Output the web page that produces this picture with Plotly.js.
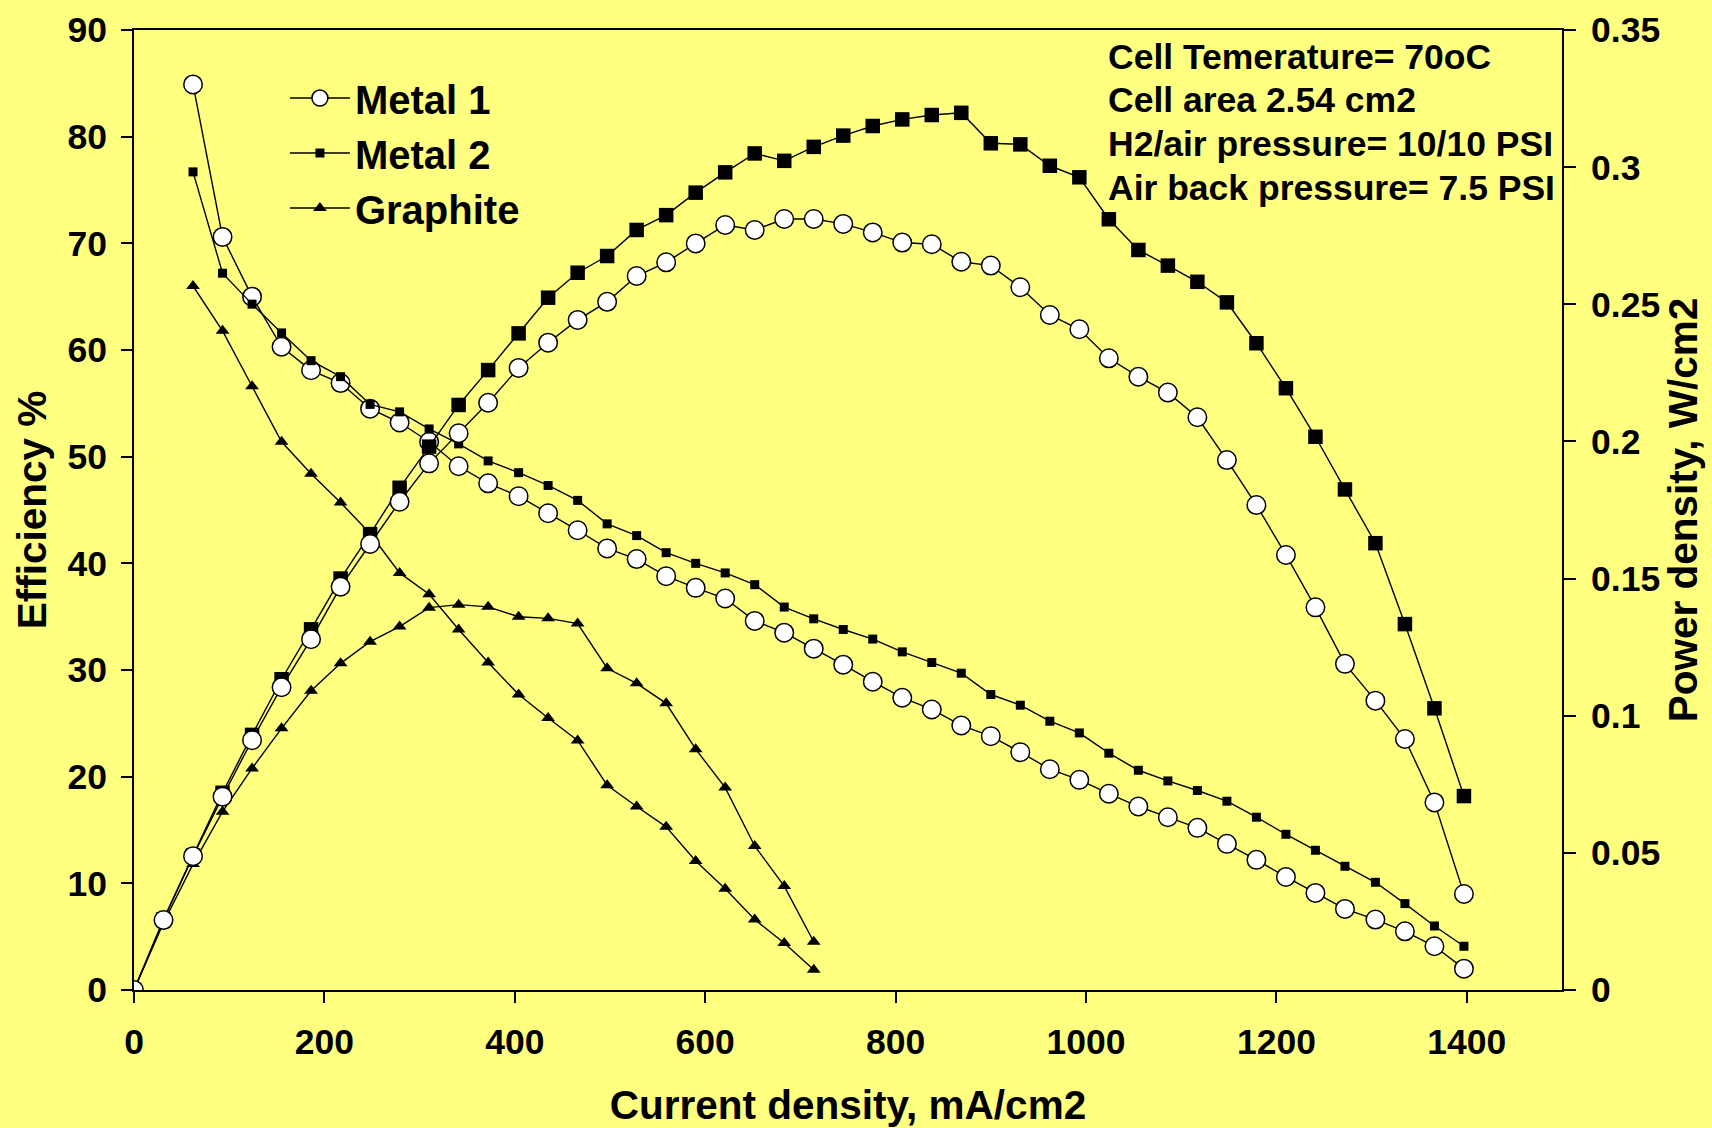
<!DOCTYPE html>
<html>
<head>
<meta charset="utf-8">
<script src="https://cdn.plot.ly/plotly-3.0.1.min.js"></script>
<style>
  html, body { margin: 0; padding: 0; background: #FFFF80; }
  #chart { width: 1712px; height: 1128px; }
</style>
</head>
<body>
<div id="chart"></div>
<script>
// Current density, mA/cm2 (one point per load step)
const currentDensity = [0, 31, 62, 93, 124, 155, 186, 217, 248, 279, 310, 341, 372, 404, 435, 466,
  497, 528, 559, 590, 621, 652, 683, 714, 745, 776, 807, 838, 869, 900, 931, 962, 993, 1024,
  1055, 1086, 1117, 1148, 1179, 1210, 1241, 1272, 1304, 1335, 1366, 1397];

// Efficiency %, starting from the third load step (62 mA/cm2)
const metal1Eff = [84.9, 70.6, 65.0, 60.3, 58.1, 56.9, 54.5, 53.2, 51.4, 49.1, 47.5, 46.3, 44.7, 43.1,
  41.4, 40.4, 38.8, 37.7, 36.7, 34.6, 33.5, 32.0, 30.5, 28.9, 27.4, 26.3, 24.8, 23.8, 22.3, 20.7,
  19.7, 18.4, 17.2, 16.2, 15.2, 13.7, 12.2, 10.6, 9.1, 7.6, 6.6, 5.5, 4.1, 2.0];
const metal2Eff = [76.7, 67.2, 64.3, 61.6, 59.0, 57.5, 54.9, 54.2, 52.6, 51.2, 49.6, 48.5, 47.3, 45.9,
  43.7, 42.6, 41.0, 40.0, 39.1, 38.0, 35.9, 34.8, 33.8, 32.9, 31.7, 30.7, 29.7, 27.7, 26.7, 25.2,
  24.1, 22.2, 20.6, 19.6, 18.7, 17.7, 16.2, 14.6, 13.1, 11.6, 10.1, 8.1, 6.0, 4.1];
const graphiteEff = [66.0, 61.8, 56.6, 51.4, 48.4, 45.7, 42.8, 39.1, 37.1, 33.8, 30.7, 27.7, 25.5,
  23.4, 19.2, 17.2, 15.3, 12.1, 9.5, 6.6, 4.4, 1.9];

// Power density, W/cm2, from 0 mA/cm2
const metal1Power = [0, 0.0255, 0.0488, 0.0705, 0.0911, 0.1104, 0.1279, 0.147, 0.1626, 0.178, 0.192,
  0.203, 0.2141, 0.2268, 0.236, 0.2443, 0.2509, 0.2603, 0.2653, 0.2722, 0.2789, 0.2771, 0.2811,
  0.2811, 0.2793, 0.2762, 0.2725, 0.2719, 0.2655, 0.2641, 0.2562, 0.2461, 0.2409, 0.2303, 0.2236,
  0.2178, 0.2088, 0.1932, 0.1768, 0.1586, 0.1395, 0.1189, 0.1055, 0.0915, 0.0684, 0.035];
const metal2Power = [0, 0.0258, 0.049, 0.0719, 0.093, 0.1133, 0.1315, 0.150, 0.1662, 0.1831, 0.1981,
  0.2133, 0.226, 0.2394, 0.2524, 0.2615, 0.2676, 0.2771, 0.2825, 0.2907, 0.2981, 0.305, 0.3023,
  0.3074, 0.3115, 0.315, 0.3174, 0.319, 0.3198, 0.3087, 0.3083, 0.3005, 0.2963, 0.281, 0.2698,
  0.2641, 0.2582, 0.2507, 0.2358, 0.2194, 0.2017, 0.1825, 0.1629, 0.1334, 0.1027, 0.0707];
const graphitePower = [0, 0.0245, 0.0459, 0.065, 0.0808, 0.0954, 0.1091, 0.1191, 0.127, 0.1325,
  0.1394, 0.1405, 0.1397, 0.1361, 0.1355, 0.1336, 0.1173, 0.1118, 0.1045, 0.0878, 0.0738, 0.0525,
  0.0379, 0.0176];

const seriesNames = ['Metal 1', 'Metal 2', 'Graphite'];
const xTickVals = [0, 200, 400, 600, 800, 1000, 1200, 1400];
const yTickVals = [0, 10, 20, 30, 40, 50, 60, 70, 80, 90];
const y2TickVals = [0, 0.05, 0.1, 0.15, 0.2, 0.25, 0.3, 0.35];
const y2TickText = ['0', '0.05', '0.1', '0.15', '0.2', '0.25', '0.3', '0.35'];
const infoLines = ['Cell Temerature= 70oC', 'Cell area 2.54 cm2',
  'H2/air pressure= 10/10 PSI', 'Air back pressure= 7.5 PSI'];

const BG = '#FFFF80';
const FONT = 'Liberation Sans, Arial, Helvetica, sans-serif';
const LW = 1.4;

const effX = currentDensity.slice(2, 2 + metal1Eff.length);
const graphEffX = currentDensity.slice(2, 2 + graphiteEff.length);
const graphPowX = currentDensity.slice(0, graphitePower.length);

const circleMarker = {symbol: 'circle', size: 18.5, color: '#ffffff', line: {color: '#000', width: 1.5}};
const smallSquare = {symbol: 'square', size: 9, color: '#000', line: {color: '#000', width: 0}};
const bigSquare = {symbol: 'square', size: 14.5, color: '#000', line: {color: '#000', width: 0}};
const triMarker = {symbol: 'triangle-up', size: 12, color: '#000', line: {color: '#000', width: 0}};

const traces = [
  {x: effX, y: metal1Eff, name: seriesNames[0], legendgroup: 'g1', mode: 'lines+markers',
   line: {color: '#000', width: LW}, marker: circleMarker, yaxis: 'y'},
  {x: effX, y: metal2Eff, name: seriesNames[1], legendgroup: 'g2', mode: 'lines+markers',
   line: {color: '#000', width: LW}, marker: smallSquare, yaxis: 'y'},
  {x: graphEffX, y: graphiteEff, name: seriesNames[2], legendgroup: 'g3', mode: 'lines+markers',
   line: {color: '#000', width: LW}, marker: triMarker, yaxis: 'y'},
  {x: graphPowX, y: graphitePower, name: seriesNames[2] + ' power', showlegend: false, mode: 'lines+markers',
   line: {color: '#000', width: LW}, marker: triMarker, yaxis: 'y2'},
  {x: currentDensity, y: metal2Power, name: seriesNames[1] + ' power', showlegend: false, mode: 'lines+markers',
   line: {color: '#000', width: LW}, marker: bigSquare, yaxis: 'y2'},
  {x: currentDensity, y: metal1Power, name: seriesNames[0] + ' power', showlegend: false, mode: 'lines+markers',
   line: {color: '#000', width: LW}, marker: circleMarker, yaxis: 'y2'}
];

const tickFont = {family: FONT, size: 35.5, color: '#000', weight: 'bold'};
const titleFont = {family: FONT, size: 40.5, color: '#000', weight: 'bold'};

// info box lines, one annotation per line
const infoY = [0.9721, 0.9267, 0.8811, 0.8356];
const annotations = infoLines.map((t, k) => ({
  xref: 'paper', yref: 'paper', x: 0.6807, y: infoY[k], xanchor: 'left', yanchor: 'middle',
  align: 'left', showarrow: false, text: t,
  font: {family: FONT, size: 35.5, color: '#000', weight: 'bold'}
}));

const layout = {
  width: 1712, height: 1128,
  paper_bgcolor: BG, plot_bgcolor: BG,
  margin: {l: 134, r: 150, t: 30, b: 138, pad: 0},
  font: {family: FONT, color: '#000', weight: 'bold'},
  showlegend: true,
  legend: {
    x: 0.1057, y: 0.963, xanchor: 'left', yanchor: 'top',
    bgcolor: 'rgba(0,0,0,0)', borderwidth: 0,
    font: {family: FONT, size: 40, color: '#000', weight: 'bold'},
    itemwidth: 60, tracegroupgap: 2, traceorder: 'normal'
  },
  xaxis: {
    range: [0, 1500], tickvals: xTickVals, ticks: 'outside', ticklen: 11, tickwidth: 2,
    tickcolor: '#000', showline: true, linecolor: '#000', linewidth: 2, mirror: true,
    showgrid: false, zeroline: false, tickfont: tickFont, ticklabelstandoff: 8,
    title: {text: 'Current density, mA/cm2', font: titleFont, standoff: 35}
  },
  yaxis: {
    range: [0, 90], tickvals: yTickVals, ticks: 'outside', ticklen: 11, tickwidth: 2,
    tickcolor: '#000', showline: true, linecolor: '#000', linewidth: 2,
    showgrid: false, zeroline: false, tickfont: tickFont, ticklabelstandoff: 7,
    title: {text: 'Efficiency %', font: titleFont, standoff: 8}
  },
  yaxis2: {
    overlaying: 'y', side: 'right', anchor: 'x',
    range: [0, 0.35], tickvals: y2TickVals, ticktext: y2TickText, ticks: 'outside', ticklen: 12, tickwidth: 2,
    tickcolor: '#000', showline: true, linecolor: '#000', linewidth: 2,
    showgrid: false, zeroline: false, tickfont: tickFont, ticklabelstandoff: 8,
    title: {text: 'Power density, W/cm2', font: titleFont, standoff: 8}
  },
  yaxis3: {
    overlaying: 'y', side: 'right', anchor: 'x',
    range: [0, 0.35], tickvals: y2TickVals, ticks: 'inside', ticklen: 12, tickwidth: 2,
    tickcolor: '#000', showline: false, showticklabels: false, showgrid: false, zeroline: false
  },
  annotations: annotations
};

Plotly.newPlot('chart', traces, layout, {displayModeBar: false, staticPlot: true});
</script>
</body>
</html>
